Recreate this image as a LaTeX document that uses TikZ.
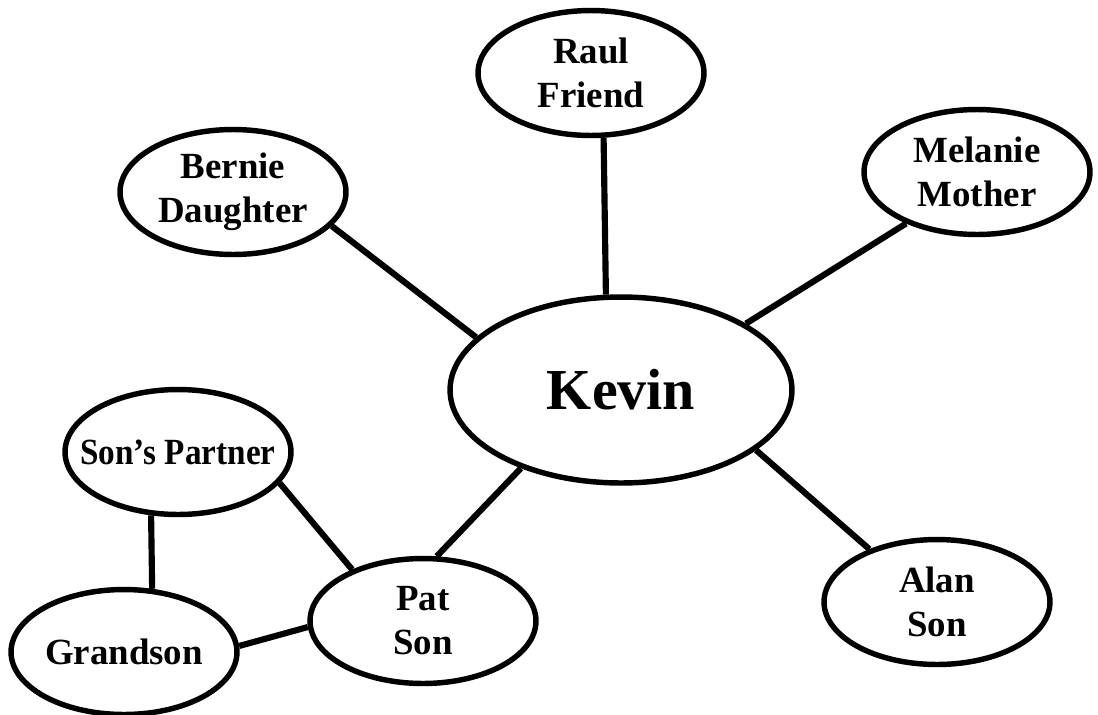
\documentclass[tikz,border=0pt]{standalone}
\usepackage{fontspec}
\setmainfont{Liberation Serif}
\usetikzlibrary{shapes.geometric}
\begin{document}
\begin{tikzpicture}[x=0.02cm,y=-0.02cm,
  person/.style={ellipse,draw,line width=3.1pt,inner sep=0pt,
    minimum width=4.52cm,minimum height=2.50cm,align=center,
    font=\fontsize{21}{25}\selectfont\bfseries},
  hub/.style={person,minimum width=6.84cm,minimum height=3.72cm,
    font=\fontsize{33}{38}\selectfont\bfseries},
  link/.style={line width=3.5pt}]
\useasboundingbox (0,0) rectangle (1098,714);
\node[hub] (kevin) at (621,390) {Kevin};
\node[person] (raul) at (591,73) {Raul\\Friend};
\node[person] (bernie) at (233,192) {Bernie\\Daughter};
\node[person] (melanie) at (977,172) {Melanie\\Mother};
\node[person] (alan) at (937,602) {Alan\\Son};
\node[person] (pat) at (423,621) {Pat\\Son};
\node[person] (partner) at (178,452) {\makebox[0pt]{\scalebox{0.9}[1]{Son’s Partner}}};
\node[person] (grandson) at (124,652) {\makebox[0pt]{Grandson}};
\draw[link] (bernie.-19.3) -- (kevin.160.9);
\draw[link] (raul.281.8) -- (kevin.99);
\draw[link] (melanie.216.4) -- (kevin.28.9);
\draw[link] (alan.142.4) -- (kevin.-24.9);
\draw[link] (pat.78.4) -- (kevin.218.9);
\draw[link] (partner.-17.7) -- (pat.144);
\draw[link] (partner.247.7) -- (grandson.66.1);
\draw[link] (grandson.3.5) -- (pat.183.5);
\end{tikzpicture}
\end{document}
